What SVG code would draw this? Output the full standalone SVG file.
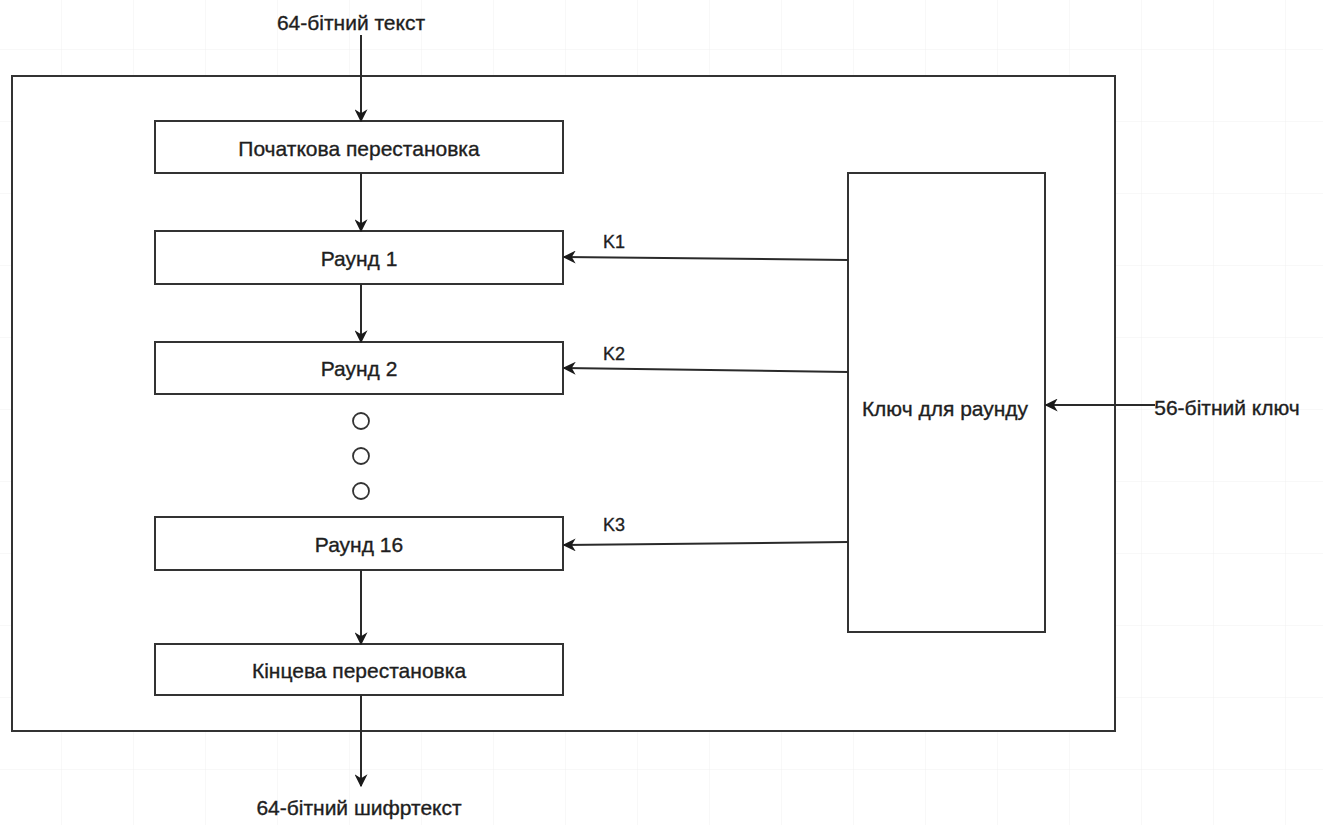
<svg xmlns="http://www.w3.org/2000/svg" width="1323" height="825" viewBox="0 0 1323 825">
<defs>
<pattern id="grid" width="72" height="72" patternUnits="userSpaceOnUse" x="-10" y="-22">
<path d="M72 0V72M0 72H72" fill="none" stroke="#f1f1f1" stroke-width="1"/>
</pattern>
<marker id="ah" viewBox="0 0 10 10" refX="9" refY="5" markerWidth="13" markerHeight="13" markerUnits="userSpaceOnUse" orient="auto">
<path d="M0,0 L10,5 L0,10 L3,5 Z" fill="#1a1a1a"/>
</marker>
<style>
.box{fill:#fff;stroke:#333;stroke-width:2}
.lbl{font-family:"Liberation Sans",Arial,sans-serif;font-size:21px;fill:#1e1e1e;stroke:#1e1e1e;stroke-width:0.35;text-anchor:middle;dominant-baseline:central}
.k{font-size:18px}
.edge{stroke:#2a2a2a;stroke-width:2;fill:none;marker-end:url(#ah)}
.dot{fill:#fff;stroke:#333;stroke-width:1.8}
</style>
</defs>
<rect width="1323" height="825" fill="#fff"/>
<rect width="1323" height="825" fill="url(#grid)"/>
<g id="container"><rect class="box" x="12" y="76" width="1103" height="655"/></g>
<g id="init-perm"><rect class="box" x="155" y="121" width="408" height="52"/><text class="lbl" x="359" y="148">Початкова перестановка</text></g>
<g id="round1"><rect class="box" x="155" y="231" width="408" height="53"/><text class="lbl" x="359" y="258">Раунд 1</text></g>
<g id="round2"><rect class="box" x="155" y="342" width="408" height="52"/><text class="lbl" x="359" y="368">Раунд 2</text></g>
<g id="dots"><circle class="dot" cx="361" cy="421" r="8"/><circle class="dot" cx="361" cy="456" r="8"/><circle class="dot" cx="361" cy="491" r="8"/></g>
<g id="round16"><rect class="box" x="155" y="517" width="408" height="53"/><text class="lbl" x="359" y="544">Раунд 16</text></g>
<g id="final-perm"><rect class="box" x="155" y="644" width="408" height="51"/><text class="lbl" x="359" y="670">Кінцева перестановка</text></g>
<g id="key-schedule"><rect class="box" x="848" y="173" width="197" height="459"/><text class="lbl" x="945" y="408">Ключ для раунду</text></g>
<g id="input-label"><text class="lbl" x="351" y="22">64-бітний текст</text></g>
<g id="output-label"><text class="lbl" x="359" y="807">64-бітний шифртекст</text></g>
<g id="key-label"><text class="lbl" x="1227" y="407">56-бітний ключ</text></g>
<g id="connectors">
<line class="edge" x1="361" y1="35" x2="361" y2="121"/>
<line class="edge" x1="361" y1="173" x2="361" y2="231"/>
<line class="edge" x1="361" y1="284" x2="361" y2="342"/>
<line class="edge" x1="361" y1="570" x2="361" y2="644"/>
<line class="edge" x1="361" y1="695" x2="361" y2="786"/>
<line class="edge" x1="848" y1="260" x2="564" y2="257"/>
<line class="edge" x1="848" y1="372" x2="564" y2="368"/>
<line class="edge" x1="848" y1="542" x2="564" y2="545"/>
<line class="edge" x1="1155" y1="405" x2="1046" y2="405"/>
<text class="lbl k" x="614" y="242">K1</text>
<text class="lbl k" x="614" y="354">K2</text>
<text class="lbl k" x="614" y="525">K3</text>
</g>
</svg>
